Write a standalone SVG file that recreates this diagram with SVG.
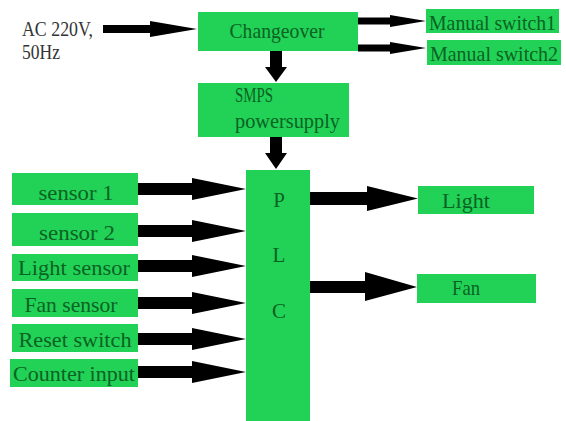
<svg xmlns="http://www.w3.org/2000/svg" width="566" height="421" viewBox="0 0 566 421">
<style>
.box{fill:#21d257;}
.t{font-family:"Liberation Serif","DejaVu Serif",serif;font-size:21px;fill:#0b6222;}
.tc{text-anchor:middle;}
.plain{font-family:"Liberation Serif","DejaVu Serif",serif;font-size:21px;fill:#333333;}
.arr{fill:#000000;}
</style>
<rect width="566" height="421" fill="#ffffff"/>
<g id="ac-input">
<text class="plain" x="22" y="36" textLength="71" lengthAdjust="spacingAndGlyphs">AC 220V,</text>
<text class="plain" x="22" y="59" textLength="38" lengthAdjust="spacingAndGlyphs">50Hz</text>
</g>
<g id="changeover">
<rect class="box" x="198" y="12" width="160" height="39"/>
<text class="t tc" x="277" y="38" textLength="95" lengthAdjust="spacingAndGlyphs">Changeover</text>
</g>
<g id="manual-switch1">
<rect class="box" x="426" y="9" width="133" height="24"/>
<text class="t tc" x="492.5" y="30" textLength="127" lengthAdjust="spacingAndGlyphs">Manual switch1</text>
</g>
<g id="manual-switch2">
<rect class="box" x="427" y="40" width="134" height="25"/>
<text class="t tc" x="494" y="61" textLength="128" lengthAdjust="spacingAndGlyphs">Manual switch2</text>
</g>
<g id="smps">
<rect class="box" x="198" y="83" width="151" height="54"/>
<text class="t" x="235" y="102" textLength="38" lengthAdjust="spacingAndGlyphs">SMPS</text>
<text class="t" x="235" y="128" textLength="105" lengthAdjust="spacingAndGlyphs">powersupply</text>
</g>
<g id="plc">
<rect class="box" x="246" y="170" width="64" height="251"/>
<text class="t tc" x="279" y="207">P</text>
<text class="t tc" x="279" y="262">L</text>
<text class="t tc" x="279" y="318">C</text>
</g>
<g id="sensor1">
<rect class="box" x="12" y="173" width="126" height="32"/>
<text class="t tc" x="76" y="200" textLength="75" lengthAdjust="spacingAndGlyphs">sensor 1</text>
</g>
<g id="sensor2">
<rect class="box" x="12" y="213" width="126" height="33"/>
<text class="t tc" x="77" y="240" textLength="76" lengthAdjust="spacingAndGlyphs">sensor 2</text>
</g>
<g id="light-sensor">
<rect class="box" x="12" y="254" width="126" height="27"/>
<text class="t tc" x="74" y="275" textLength="112" lengthAdjust="spacingAndGlyphs">Light sensor</text>
</g>
<g id="fan-sensor">
<rect class="box" x="12" y="289" width="126" height="28"/>
<text class="t tc" x="71" y="312" textLength="93" lengthAdjust="spacingAndGlyphs">Fan sensor</text>
</g>
<g id="reset-switch">
<rect class="box" x="12" y="324" width="126" height="28"/>
<text class="t tc" x="75" y="347" textLength="113" lengthAdjust="spacingAndGlyphs">Reset switch</text>
</g>
<g id="counter-input">
<rect class="box" x="10" y="359" width="128" height="28"/>
<text class="t tc" x="74" y="381" textLength="122" lengthAdjust="spacingAndGlyphs">Counter input</text>
</g>
<g id="light">
<rect class="box" x="418" y="186" width="116" height="28"/>
<text class="t tc" x="466" y="208" textLength="48" lengthAdjust="spacingAndGlyphs">Light</text>
</g>
<g id="fan">
<rect class="box" x="417" y="274" width="119" height="29"/>
<text class="t tc" x="466" y="295" textLength="28" lengthAdjust="spacingAndGlyphs">Fan</text>
</g>
<g id="connectors">
<polygon class="arr" points="103,25 150,25 150,21 197,29 150,37 150,33 103,33"/>
<polygon class="arr" points="358,17.5 390,17.5 390,15 426,21 390,27 390,24.5 358,24.5"/>
<polygon class="arr" points="358,44.5 390,44.5 390,42 426,48 390,54 390,51.5 358,51.5"/>
<polygon class="arr" points="270,51 282,51 282,67 287,67 276,82 265,67 270,67"/>
<polygon class="arr" points="270,137 282,137 282,153 287,153 276,169 265,153 270,153"/>
<polygon class="arr" points="138,183 192,183 192,178 246,189 192,200 192,195 138,195"/>
<polygon class="arr" points="138,225 192,225 192,220 246,231 192,242 192,237 138,237"/>
<polygon class="arr" points="138,260 192,260 192,255 246,266 192,277 192,272 138,272"/>
<polygon class="arr" points="138,297 192,297 192,292 246,303 192,314 192,309 138,309"/>
<polygon class="arr" points="138,333 192,333 192,328 246,339 192,350 192,345 138,345"/>
<polygon class="arr" points="138,366 192,366 192,361 246,372 192,383 192,378 138,378"/>
<polygon class="arr" points="310,192 367,192 367,186 418,198.5 367,211 367,205 310,205"/>
<polygon class="arr" points="310,281 365,281 365,272 417,287 365,301 365,293 310,293"/>
</g>
</svg>
